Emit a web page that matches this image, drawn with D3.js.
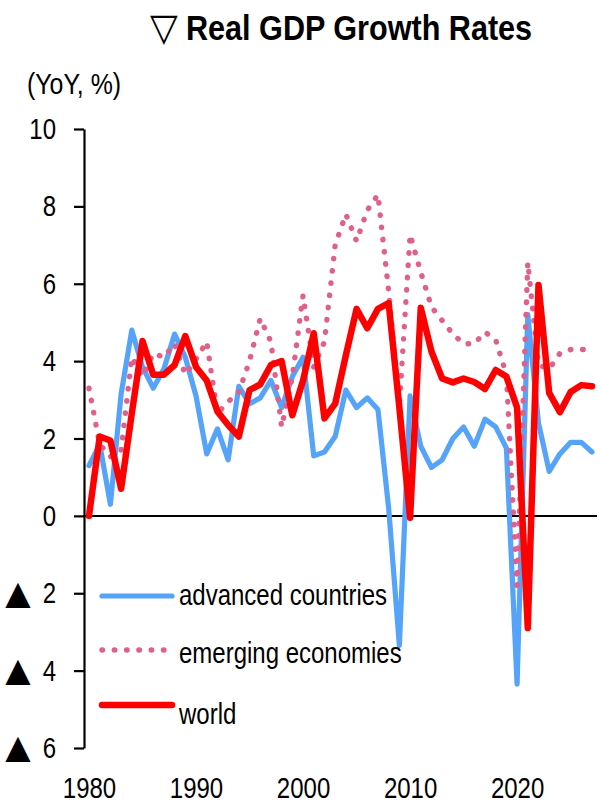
<!DOCTYPE html>
<html>
<head>
<meta charset="utf-8">
<script src="https://cdn.jsdelivr.net/npm/d3@7"></script>
<style>
  html, body { margin: 0; padding: 0; background: #fff; }
  svg { display: block; font-family: "Liberation Sans", Arial, "DejaVu Sans", sans-serif; }
</style>
</head>
<body>
<svg id="chart" width="602" height="807"></svg>
<script>
// Real GDP growth, YoY %, 1980-2027
const years = d3.range(1980, 2028);

const advanced = [
  1.3, 1.85, 0.3, 3.15, 4.8, 3.85, 3.3, 3.8, 4.7, 4.1,
  3.1, 1.6, 2.25, 1.45, 3.35, 2.9, 3.05, 3.5, 2.8, 3.6,
  4.1, 1.55, 1.65, 2.05, 3.25, 2.8, 3.05, 2.75, 0.2, -3.35,
  3.1, 1.8, 1.25, 1.45, 2.0, 2.3, 1.8, 2.5, 2.3, 1.75,
  -4.35, 5.2, 2.4, 1.15, 1.6, 1.9, 1.9, 1.65
];

const emerging = [
  3.3, 1.85, 1.53, 1.7, 4.1, 3.6, 4.2, 4.1, 4.45, 3.65,
  4.05, 4.5, 2.65, 2.95, 3.2, 4.0, 5.1, 4.5, 2.3, 3.6,
  5.7, 3.85, 4.5, 7.0, 7.8, 7.1, 7.9, 8.3, 5.8, 2.85,
  7.27, 6.3, 5.4, 5.05, 4.7, 4.45, 4.45, 4.75, 4.55, 3.65,
  -1.8, 6.55, 3.9, 3.8, 4.2, 4.3, 4.3, 4.3
];

const world = [
  0.0, 2.05, 1.95, 0.7, 2.65, 4.52, 3.65, 3.65, 3.9, 4.65,
  3.85, 3.5, 2.7, 2.35, 2.05, 3.25, 3.4, 3.9, 4.0, 2.6,
  3.5, 4.72, 2.52, 2.9, 4.15, 5.35, 4.85, 5.35, 5.5, 2.8,
  -0.05, 5.38, 4.25, 3.55, 3.45, 3.55, 3.46, 3.28, 3.77, 3.6,
  2.8, -2.9, 5.97, 3.18, 2.68, 3.2, 3.38, 3.35
];

const yTicks = [-6, -4, -2, 0, 2, 4, 6, 8, 10];
const xTicks = [1980, 1990, 2000, 2010, 2020];

const seriesNames = ["advanced countries", "emerging economies", "world"];
const seriesColors = ["#55a4f9", "#e0608c", "#ff0000"];

const titleText = "Real GDP Growth Rates";
const titleMark = "\u25BD";
const unitText = "(YoY, %)";
const negMark = "\u25B2";

// ---------------------------------------------------------------
const svg = d3.select("#chart");
const FS = 30;      // base text size
const SX = 0.8;     // horizontal condensing of body text

const x = d3.scaleLinear().domain([1980, 2027]).range([89, 592]);
const y = d3.scaleLinear().domain([-6, 10]).range([748, 129]);

// draws a horizontally condensed text at (px, py)
function narrowText(g, str, px, py, opts = {}) {
  return g.append("text")
    .attr("transform", `translate(${px},${py}) scale(${opts.sx ?? SX},1)`)
    .attr("text-anchor", opts.anchor || "start")
    .attr("font-size", opts.size || FS)
    .attr("font-weight", opts.weight || "normal")
    .attr("fill", "#000")
    .text(str);
}

// title
narrowText(svg, titleMark, 150, 40, { size: 38, sx: 0.95 })
  .attr("font-family", "DejaVu Sans");
narrowText(svg, titleText, 186, 40, { size: 36, sx: 0.85, weight: "bold" });

// unit label
narrowText(svg, unitText, 27, 94, { sx: 0.83 });

// y axis
const yAxis = d3.axisLeft(y)
  .tickValues(yTicks)
  .tickSize(10)
  .tickSizeOuter(0)
  .tickPadding(18)
  .tickFormat(v => String(Math.abs(v)));

const gy = svg.append("g")
  .attr("transform", `translate(84,0)`)
  .call(yAxis);
gy.select(".domain").attr("stroke", "#000").attr("stroke-width", 2.2);
gy.selectAll(".tick line").attr("stroke", "#000").attr("stroke-width", 2.2);
gy.selectAll(".tick text")
  .attr("font-size", FS)
  .attr("font-family", "\"Liberation Sans\", Arial, sans-serif")
  .attr("fill", "#000")
  .attr("x", -28 / SX)
  .attr("transform", `scale(${SX},1)`);

// negative values carry a filled triangle in front of the magnitude
gy.selectAll(".tick")
  .filter(v => v < 0)
  .append("text")
  .attr("x", -66)
  .attr("dy", "0.3em")
  .attr("text-anchor", "middle")
  .attr("font-family", "DejaVu Sans")
  .attr("font-size", 33)
  .attr("fill", "#000")
  .text(negMark);

// x axis labels (no axis line)
const xAxis = d3.axisBottom(x)
  .tickValues(xTicks)
  .tickSize(0)
  .tickPadding(0)
  .tickFormat(d3.format("d"));

const gx = svg.append("g")
  .attr("transform", `translate(0,798)`)
  .call(xAxis);
gx.select(".domain").remove();
gx.selectAll(".tick text")
  .attr("font-size", FS)
  .attr("font-family", "\"Liberation Sans\", Arial, sans-serif")
  .attr("fill", "#000")
  .attr("y", 0)
  .attr("dy", 0)
  .attr("transform", `scale(${SX},1)`);

// zero line
svg.append("line")
  .attr("x1", 84).attr("x2", 597)
  .attr("y1", y(0)).attr("y2", y(0))
  .attr("stroke", "#000").attr("stroke-width", 2);

// series lines
const lineGen = d3.line()
  .x((d, i) => x(years[i]))
  .y(d => y(d));

const seriesData = [advanced, emerging, world];
const strokeW = [5.2, 5.4, 6.5];
const dashes = [null, "0.5 11.8", null];

seriesData.forEach((vals, k) => {
  svg.append("path")
    .datum(vals)
    .attr("fill", "none")
    .attr("stroke", seriesColors[k])
    .attr("stroke-width", strokeW[k])
    .attr("stroke-linejoin", "round")
    .attr("stroke-linecap", "round")
    .attr("stroke-dasharray", dashes[k])
    .attr("d", lineGen);
});

// legend
const legendLineY = [596, 650, 705];
const legendTextY = [605, 663, 724];
seriesNames.forEach((name, k) => {
  svg.append("line")
    .attr("x1", 102).attr("x2", k === 1 ? 168 : 172)
    .attr("y1", legendLineY[k]).attr("y2", legendLineY[k])
    .attr("stroke", seriesColors[k])
    .attr("stroke-width", strokeW[k])
    .attr("stroke-linecap", "round")
    .attr("stroke-dasharray", dashes[k]);
  narrowText(svg, name, 179, legendTextY[k]);
});
</script>
</body>
</html>
